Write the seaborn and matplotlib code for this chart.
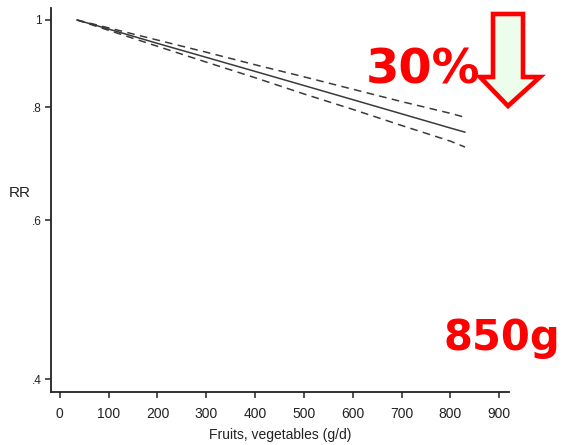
import matplotlib
matplotlib.use("Agg")
import matplotlib.pyplot as plt
from matplotlib.patches import Polygon
from matplotlib.ticker import NullLocator
import numpy as np
import pandas as pd
import seaborn as sns

# Dose-response of fruit & vegetable intake (g/d) vs relative risk
intake = [35, 100, 200, 300, 400, 500, 600, 700, 800, 830]
rr = [1.0, 0.977, 0.942, 0.909, 0.877, 0.846, 0.816, 0.787, 0.759, 0.751]
rr_upper = [1.0, 0.980, 0.950, 0.921, 0.892, 0.865, 0.838, 0.812, 0.788, 0.780]
rr_lower = [1.0, 0.974, 0.935, 0.898, 0.863, 0.828, 0.796, 0.764, 0.734, 0.723]

x_ticks = [0, 100, 200, 300, 400, 500, 600, 700, 800, 900]
y_ticks = [0.4, 0.6, 0.8, 1.0]
y_tick_labels = [".4", ".6", ".8", "1"]

reduction_label = "30%"
intake_label = "850g"

sns.set_theme(style="ticks")
plt.rcParams["font.family"] = ["Liberation Sans", "DejaVu Sans"]

W, H = 575, 445
fig = plt.figure(figsize=(W / 100, H / 100), dpi=100)
ax = fig.add_axes([51 / W, 1 - 392 / H, (509 - 51) / W, (392 - 8) / H])

df = pd.DataFrame({"intake": intake, "rr": rr, "upper": rr_upper, "lower": rr_lower})
line_col = "#3a3a3a"
sns.lineplot(data=df, x="intake", y="rr", ax=ax, color=line_col, linewidth=1.1)
sns.lineplot(data=df, x="intake", y="upper", ax=ax, color=line_col, linewidth=1.1,
             linestyle=(0, (5, 3.5)))
sns.lineplot(data=df, x="intake", y="lower", ax=ax, color=line_col, linewidth=1.1,
             linestyle=(0, (5, 3.5)))

ax.set_yscale("log")
ax.set_xlim(-18, 920)
ax.set_ylim(0.387, 1.031)
ax.set_xticks(x_ticks)
ax.set_xticklabels([str(t) for t in x_ticks], fontsize=10, color="#222222")
ax.set_yticks(y_ticks)
ax.set_yticklabels(y_tick_labels, fontsize=8.5, color="#222222")
ax.yaxis.set_minor_locator(NullLocator())
ax.tick_params(axis="both", length=4.5, width=1.1, color="#222222")
ax.tick_params(axis="x", pad=6)
ax.tick_params(axis="y", pad=2)
for side in ("left", "bottom"):
    ax.spines[side].set_linewidth(1.3)
    ax.spines[side].set_color("#222222")
sns.despine(ax=ax)

ax.set_xlabel("Fruits, vegetables (g/d)", fontsize=10, color="#222222", labelpad=5)
ax.set_ylabel("RR", fontsize=11, color="#222222", rotation=0, labelpad=0)
ax.yaxis.set_label_coords(-0.068, 0.5)

# Headline annotations
fig.text(366 / W, 1 - 83 / H, reduction_label, fontsize=34.5, color="#ff0000",
         fontweight="bold", family="DejaVu Sans", ha="left", va="baseline")
fig.text(443 / W, 1 - 350 / H, intake_label, fontsize=30, color="#ff0000",
         fontweight="bold", family="DejaVu Sans", ha="left", va="baseline")

# Downward arrow
pts_px = [(493, 14), (523, 14), (523, 77), (540, 77), (508, 106),
          (480, 77), (493, 77)]
pts = [(x / W, 1 - y / H) for x, y in pts_px]
fig.patches.append(Polygon(pts, closed=True, transform=fig.transFigure,
                           facecolor="#ecfdeb", edgecolor="#ff0000",
                           linewidth=3.3, joinstyle="miter"))

fig.savefig("out.png", dpi=100)
